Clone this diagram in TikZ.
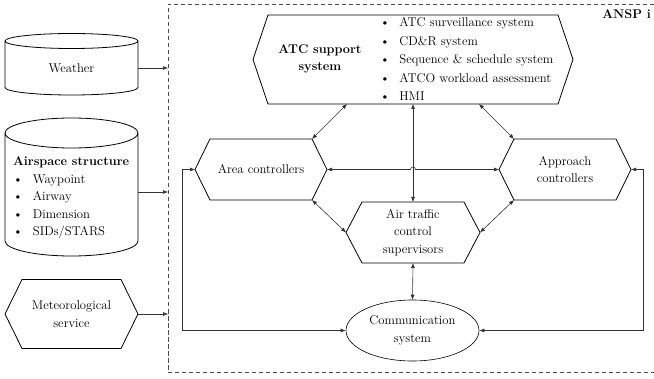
\documentclass[tikz,border=0pt]{standalone}
\usepackage{fontspec}
\usetikzlibrary{arrows.meta,shapes.geometric}
\newcommand\hexborder[2]{\draw[shapeline] (#1.west) -- ([xshift=#2]#1.north west) -- ([xshift=-#2]#1.north east) -- (#1.east) -- ([xshift=-#2]#1.south east) -- ([xshift=#2]#1.south west) -- cycle;}
\newcommand\cylborder[3]{\draw[shapeline] (#1.north west) -- (#1.south west) arc[start angle=180,end angle=360,x radius=#2,y radius=#3] -- (#1.north east) arc[start angle=0,end angle=180,x radius=#2,y radius=#3] arc[start angle=180,end angle=360,x radius=#2,y radius=#3];}
\begin{document}
\begin{tikzpicture}[x=1pt,y=1pt,
  txt/.style={font=\fontsize{12.7}{17.5}\selectfont, align=center, inner sep=0pt},
  boxnode/.style={inner sep=0pt, outer sep=0pt, minimum width=#1},
  shapeline/.style={line width=0.8pt, black},
  conn/.style={line width=0.6pt, black!80, {Latex[length=5pt,width=4pt]}-{Latex[length=5pt,width=4pt]}},
  inarrow/.style={line width=0.6pt, black!80, -{Latex[length=5pt,width=4pt]}},
  frame/.style={line width=0.6pt, black!70, dash pattern=on 4.5pt off 2.5pt}]
\useasboundingbox (0,0) rectangle (654,378);
% frame
\coordinate (fl) at (168,0);
\coordinate (ftr) at (654,374);
\coordinate (fbr) at (654,5.5);
\draw[frame] (ftr) -- (fl |- ftr) -- (fl |- fbr) -- (fbr);
\node[txt, font=\fontsize{12.7}{17.5}\selectfont\bfseries, anchor=east] (ansp) at (651,364) {ANSP i};
% left column
\node[boxnode=133, minimum height=46.5] (weather) at (71.5,313.75) {};
\cylborder{weather}{66.5}{7.5}
\node[txt] (weatherT) at (71.5,310) {Weather};
\node[boxnode=133, minimum height=108] (air) at (71.5,191) {};
\cylborder{air}{66.5}{15}
\node[txt, align=left, anchor=west] (airT) at (13,180) {\textbf{Airspace structure}\\
\textbullet\hspace{10pt}Waypoint\\
\textbullet\hspace{10pt}Airway\\
\textbullet\hspace{10pt}Dimension\\
\textbullet\hspace{10pt}SIDs/STARS};
\node[boxnode=133, minimum height=69] (met) at (71.5,64) {};
\hexborder{met}{17pt}
\node[txt] (metT) at (71.5,64) {Meteorological\\service};
\draw[inarrow] ([yshift=-3.75pt]weather.east) -- ([yshift=-3.75pt]weather.east -| fl);
\draw[inarrow] ([yshift=-5pt]air.east) -- ([yshift=-5pt]air.east -| fl);
\draw[inarrow] (met.east) -- (met.east -| fl);
% ATC support system
\node[boxnode=320, minimum height=89] (atc) at (413,318.5) {};
\hexborder{atc}{15pt}
\node[txt, font=\fontsize{12.7}{17.5}\selectfont\bfseries] (atcT) at (320,319) {ATC support\\system};
\node[txt, align=left, anchor=west, font=\fontsize{12.7}{18.5}\selectfont] (atcL) at (380,319) {\textbullet\hspace{9.5pt}ATC surveillance system\\
\textbullet\hspace{9.5pt}CD\&R system\\
\textbullet\hspace{9.5pt}Sequence \& schedule system\\
\textbullet\hspace{9.5pt}ATCO workload assessment\\
\textbullet\hspace{9.5pt}HMI};
% controllers
\node[boxnode=132, minimum height=61, txt] (area) at (261,208.5) {Area controllers};
\hexborder{area}{15pt}
\node[boxnode=132, minimum height=61, txt] (appr) at (565,208.5) {Approach\\controllers};
\hexborder{appr}{15pt}
\node[boxnode=134, minimum height=61, txt] (sup) at (413,145.5) {Air traffic\\control\\supervisors};
\hexborder{sup}{16pt}
\node[ellipse, draw, line width=0.6pt, minimum width=133, minimum height=61, inner sep=0pt, txt] (comm) at (412.5,47.5) {Communication\\system};
% connectors
\draw[conn] ([xshift=-66pt]atc.south) -- ([xshift=-15pt]area.north east);
\draw[conn] ([xshift=66pt]atc.south) -- ([xshift=15pt]appr.north west);
\draw[conn] (atc.south) -- (sup.north);
\draw[conn] ([xshift=-15pt]area.south east) -- (sup.west);
\draw[conn] ([xshift=15pt]appr.south west) -- (sup.east);
\draw[conn] (sup.south) -- (comm.north);
\coordinate (hop) at (atc.south |- area.east);
\draw[conn] (area.east) -- ([xshift=-2.5pt]hop) arc[start angle=180,end angle=0,radius=2.5pt] -- (appr.west);
\coordinate (lx) at (182,0);
\coordinate (rx) at (643,0);
\draw[conn] (area.west) -- (area.west -| lx) -- (comm.west -| lx) -- (comm.west);
\draw[conn] (appr.east) -- (appr.east -| rx) -- (comm.east -| rx) -- (comm.east);
\end{tikzpicture}
\end{document}
